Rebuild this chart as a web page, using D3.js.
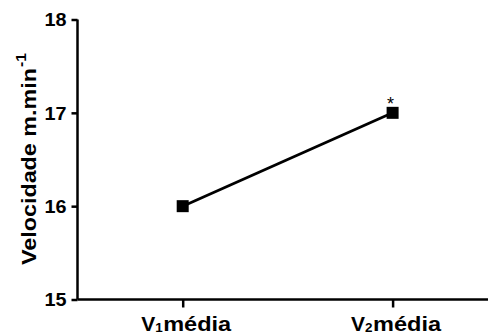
<!DOCTYPE html>
<html>
<head>
<meta charset="utf-8">
<script src="https://cdn.jsdelivr.net/npm/d3@7"></script>
<style>
  html, body { margin: 0; padding: 0; background: #fff; }
  svg { display: block; }
  svg text { font-family: "Liberation Sans", Arial, Helvetica, sans-serif; font-weight: 700; fill: #000; }
</style>
</head>
<body>
<svg id="chart" width="492" height="334"></svg>
<script>
// Mean velocity at the two moments
const categories = ["V1", "V2"];
const subscripts = ["1", "2"];
const values = [16.0, 17.0];
const significant = [false, true];
const yTicks = [15, 16, 17, 18];

const svg = d3.select("#chart");
const axisX = 77.5, axisRight = 488;

const x = d3.scalePoint()
  .domain(categories)
  .range([182.7, 392.6]);

const y = d3.scaleLinear()
  .domain([15, 18])
  .range([299.5, 19.5]);

// Y axis
const yAxis = svg.append("g")
  .attr("transform", `translate(${axisX},0)`)
  .call(d3.axisLeft(y).tickValues(yTicks).tickFormat(d3.format("d")).tickSize(6).tickPadding(5));
yAxis.select(".domain").attr("stroke-width", 2.5).attr("d", `M0,${y(18)}V${y(15)}`);
yAxis.selectAll(".tick line").attr("stroke-width", 2.5);
yAxis.selectAll(".tick text")
  .style("font-size", "18px")
  .attr("dy", "0.36em")
  .attr("textLength", 22)
  .attr("lengthAdjust", "spacingAndGlyphs");

// X axis
const xAxis = svg.append("g")
  .attr("transform", `translate(0,${y(15)})`)
  .call(d3.axisBottom(x).tickSize(8).tickFormat(""));
xAxis.select(".domain").attr("stroke-width", 2.5).attr("d", `M${axisX},0H${axisRight}`);
xAxis.selectAll(".tick line").attr("stroke-width", 2.5);

// Category labels: V, subscript index, "média"
const labels = svg.selectAll("g.xlabel")
  .data(categories)
  .join("g")
  .attr("class", "xlabel")
  .attr("transform", d => `translate(${x(d)},0)`);
labels.append("text")
  .attr("x", -41.5).attr("y", 330.5)
  .style("font-size", "21px")
  .text("V");
labels.append("text")
  .attr("x", -27.5).attr("y", 332)
  .style("font-size", "13.5px")
  .text((d, i) => subscripts[i]);
labels.append("text")
  .attr("x", -19.5).attr("y", 330.5)
  .style("font-size", "21px")
  .attr("textLength", 68)
  .attr("lengthAdjust", "spacingAndGlyphs")
  .text("média");

// Y axis title
const yTitle = svg.append("g")
  .attr("transform", "translate(36,265) rotate(-90)");
yTitle.append("text")
  .attr("x", 0).attr("y", 0)
  .style("font-size", "21px")
  .attr("textLength", 197)
  .attr("lengthAdjust", "spacingAndGlyphs")
  .text("Velocidade m.min");
yTitle.append("text")
  .attr("x", 198).attr("y", -10)
  .style("font-size", "14px")
  .attr("textLength", 14)
  .attr("lengthAdjust", "spacingAndGlyphs")
  .text("-1");

// Connecting line
const line = d3.line()
  .x((d, i) => x(categories[i]))
  .y(d => y(d));
svg.append("path")
  .datum(values)
  .attr("d", line)
  .attr("fill", "none")
  .attr("stroke", "#000")
  .attr("stroke-width", 2.8);

// Square markers
const s = 12;
svg.selectAll("rect.pt")
  .data(values)
  .join("rect")
  .attr("class", "pt")
  .attr("x", (d, i) => x(categories[i]) - s / 2)
  .attr("y", d => y(d) - s / 2)
  .attr("width", s)
  .attr("height", s)
  .attr("fill", "#000");

// Significance marks
svg.selectAll("text.sig")
  .data(values.map((v, i) => ({ v, i })).filter(d => significant[d.i]))
  .join("text")
  .attr("class", "sig")
  .attr("x", d => x(categories[d.i]) - 2)
  .attr("y", d => y(d.v) - 3)
  .attr("text-anchor", "middle")
  .style("font-size", "18px")
  .style("font-weight", "400")
  .text("*");
</script>
</body>
</html>
